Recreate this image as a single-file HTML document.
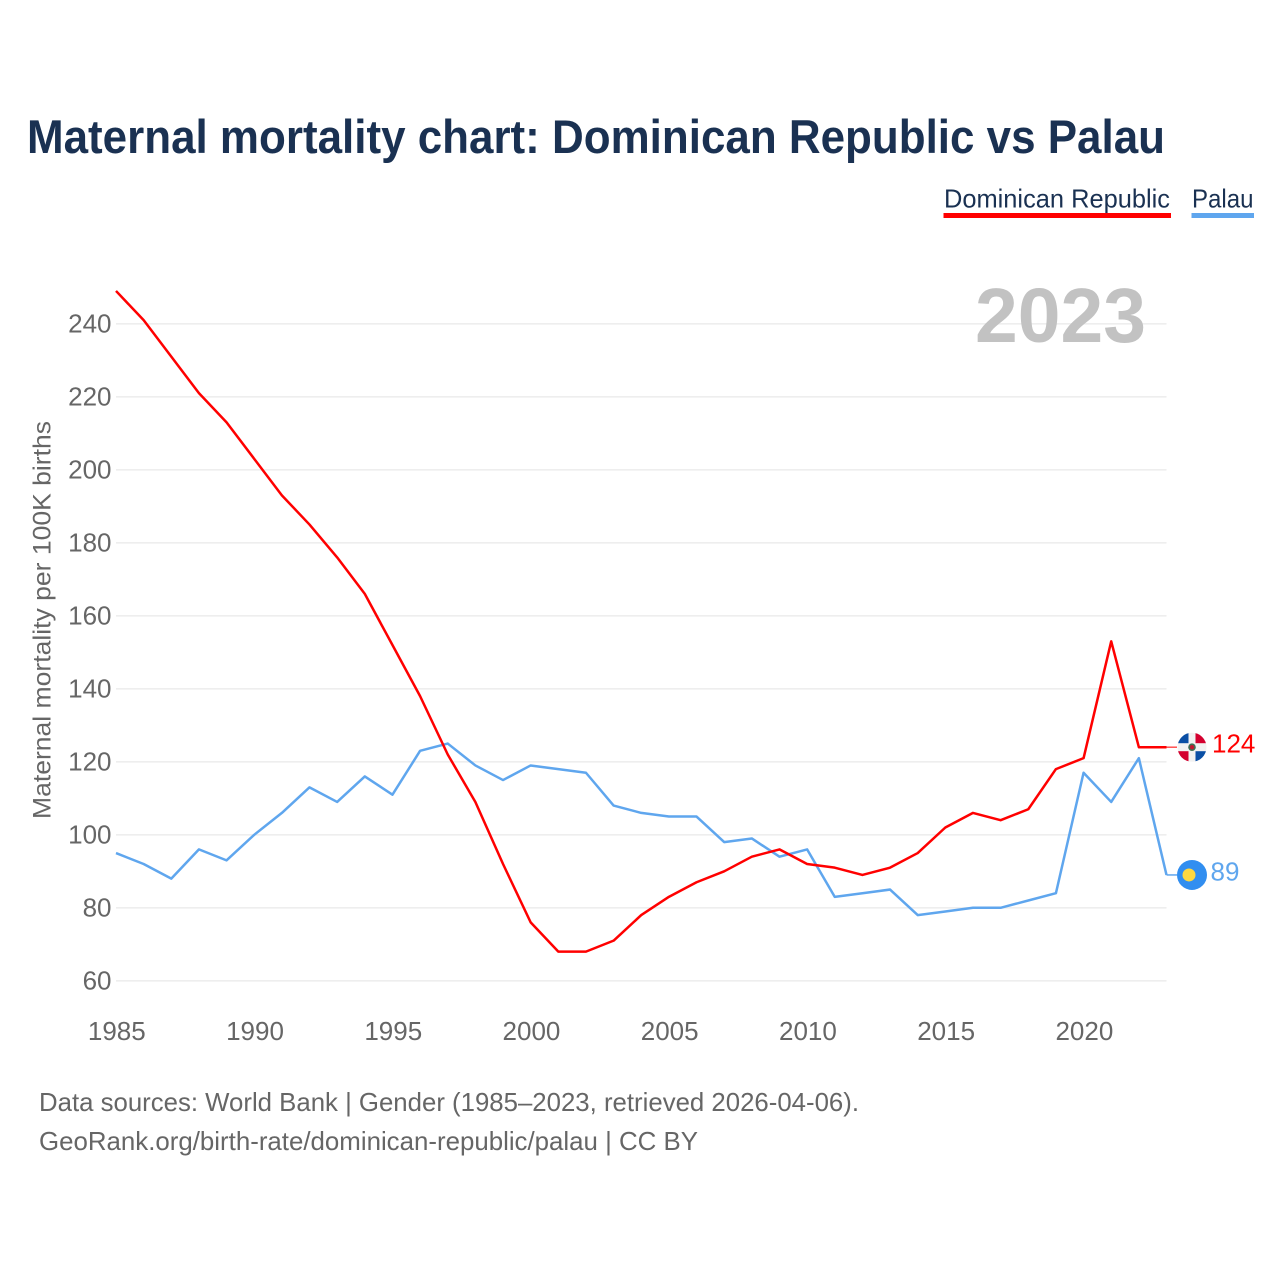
<!DOCTYPE html>
<html lang="en">
<head>
<meta charset="utf-8">
<title>Maternal mortality chart: Dominican Republic vs Palau</title>
<style>
html,body{margin:0;padding:0;background:#fff}
svg{display:block}
text{font-family:"Liberation Sans",sans-serif}
</style>
</head>
<body>
<svg id="chart" width="1280" height="1280" viewBox="0 0 1280 1280" xmlns="http://www.w3.org/2000/svg">
  <rect width="1280" height="1280" fill="#fff"/>
  <text x="27" y="153" font-size="47" font-weight="bold" fill="#1a3152" textLength="1138" lengthAdjust="spacingAndGlyphs">Maternal mortality chart: Dominican Republic vs Palau</text>

  <g>
    <g>
      <text x="944" y="207.5" font-size="26" fill="#1a3152" textLength="226" lengthAdjust="spacingAndGlyphs">Dominican Republic</text>
      <rect x="943.5" y="213" width="227.5" height="5" fill="#ff0000"/>
    </g>
    <g>
      <text x="1192" y="207.5" font-size="26" fill="#1a3152" textLength="61.5" lengthAdjust="spacingAndGlyphs">Palau</text>
      <rect x="1191.5" y="213" width="62.5" height="5" fill="#5fa6ee"/>
    </g>
  </g>

  <g id="grid"></g>
  <g id="yticks"></g>
  <g id="xticks"></g>

  <text x="975" y="342" font-size="77" font-weight="bold" fill="#c2c2c2" textLength="171" lengthAdjust="spacingAndGlyphs">2023</text>

  <text transform="translate(50.5,620) rotate(-90)" text-anchor="middle" font-size="25" fill="#666" textLength="398" lengthAdjust="spacingAndGlyphs">Maternal mortality per 100K births</text>

  <polyline id="line-palau" fill="none" stroke="#5fa6ee" stroke-width="2.5" stroke-linejoin="round"/>
  <polyline id="line-dr" fill="none" stroke="#ff0000" stroke-width="2.5" stroke-linejoin="round"/>
  <line id="lead-palau" stroke="#5fa6ee" stroke-width="1.5"/>
  <line id="lead-dr" stroke="#ff5050" stroke-width="1.5"/>

  <g id="flag-dr">
    <clipPath id="clip-dr"><circle cx="0" cy="0" r="14.5"/></clipPath>
    <g clip-path="url(#clip-dr)">
      <rect x="-15" y="-15" width="30" height="30" fill="#f2f2f2"/>
      <rect x="-15" y="-15" width="11.5" height="11" fill="#0a4fa5"/>
      <rect x="3.5" y="-15" width="11.5" height="11" fill="#d4002f"/>
      <rect x="-15" y="4" width="11.5" height="11" fill="#d4002f"/>
      <rect x="3.5" y="4" width="11.5" height="11" fill="#0a4fa5"/>
      <circle r="3.8" fill="#3f6f55"/>
      <circle r="2.2" fill="#c0182f"/>
    </g>
  </g>
  <g id="flag-palau">
    <circle r="15" fill="#318ef0"/>
    <circle cx="-3" cy="0" r="6.5" fill="#ffd83f"/>
  </g>
  <text id="value-dr" x="1212" y="753" font-size="26" fill="#ff0000"></text>
  <text id="value-palau" x="1210.5" y="881" font-size="26" fill="#5fa6ee"></text>

  <g>
    <text x="39" y="1111" font-size="26" fill="#666" textLength="820" lengthAdjust="spacingAndGlyphs">Data sources: World Bank | Gender (1985–2023, retrieved 2026-04-06).</text>
    <text x="39" y="1150" font-size="26" fill="#666" textLength="659" lengthAdjust="spacingAndGlyphs">GeoRank.org/birth-rate/dominican-republic/palau | CC BY</text>
  </g>
</svg>
<script>
const years = [1985,1986,1987,1988,1989,1990,1991,1992,1993,1994,1995,1996,1997,1998,1999,2000,2001,2002,2003,2004,2005,2006,2007,2008,2009,2010,2011,2012,2013,2014,2015,2016,2017,2018,2019,2020,2021,2022,2023];
const dominicanRepublic = [249,241,231,221,213,203,193,185,176,166,152,138,122,109,92,76,68,68,71,78,83,87,90,94,96,92,91,89,91,95,102,106,104,107,118,121,153,124,124];
const palau = [95,92,88,96,93,100,106,113,109,116,111,123,125,119,115,119,118,117,108,106,105,105,98,99,94,96,83,84,85,78,79,80,80,82,84,117,109,121,89];
const yTickValues = [60,80,100,120,140,160,180,200,220,240];
const xTickValues = [1985,1990,1995,2000,2005,2010,2015,2020];

const NS = 'http://www.w3.org/2000/svg';
const plotLeft = 116, plotRight = 1166.5;
function xScale(year){ return plotLeft + (year - 1985) * (plotRight - plotLeft) / (2023 - 1985); }
function yScale(value){ return 980.8 - (value - 60) * (980.8 - 323.8) / (240 - 60); }
function points(series){ return series.map((v, i) => xScale(years[i]).toFixed(2) + ',' + yScale(v).toFixed(2)).join(' '); }

const grid = document.getElementById('grid');
const yticks = document.getElementById('yticks');
yTickValues.forEach(v => {
  const line = document.createElementNS(NS, 'line');
  
  
  line.setAttribute('x1', plotLeft);
  line.setAttribute('x2', plotRight);
  line.setAttribute('y1', yScale(v));
  line.setAttribute('y2', yScale(v));
  line.setAttribute('stroke', '#eeeeee');
  line.setAttribute('stroke-width', '1.6');
  grid.appendChild(line);
  const label = document.createElementNS(NS, 'text');
  
  
  label.setAttribute('x', 111.5);
  label.setAttribute('y', yScale(v) + 8.5);
  label.setAttribute('text-anchor', 'end');
  label.setAttribute('font-size', '26');
  label.setAttribute('fill', '#666');
  label.textContent = v;
  yticks.appendChild(label);
});

const xticks = document.getElementById('xticks');
xTickValues.forEach(y => {
  const label = document.createElementNS(NS, 'text');
  
  
  label.setAttribute('x', xScale(y) + 0.8);
  label.setAttribute('y', 1040);
  label.setAttribute('text-anchor', 'middle');
  label.setAttribute('font-size', '26');
  label.setAttribute('fill', '#666');
  label.textContent = y;
  xticks.appendChild(label);
});

document.getElementById('line-dr').setAttribute('points', points(dominicanRepublic));
document.getElementById('line-palau').setAttribute('points', points(palau));

function endMarker(series, leadId, flagId, valueId, dy){
  const last = series[series.length - 1];
  const y = yScale(last);
  const lead = document.getElementById(leadId);
  lead.setAttribute('x1', plotRight);
  lead.setAttribute('x2', 1177);
  lead.setAttribute('y1', y);
  lead.setAttribute('y2', y);
  document.getElementById(flagId).setAttribute('transform', 'translate(1192,' + y + ')');
  const val = document.getElementById(valueId);
  val.setAttribute('y', y + dy);
  val.textContent = last;
}
endMarker(dominicanRepublic, 'lead-dr', 'flag-dr', 'value-dr', 5.5);
endMarker(palau, 'lead-palau', 'flag-palau', 'value-palau', 5.5);
</script>
</body>
</html>
